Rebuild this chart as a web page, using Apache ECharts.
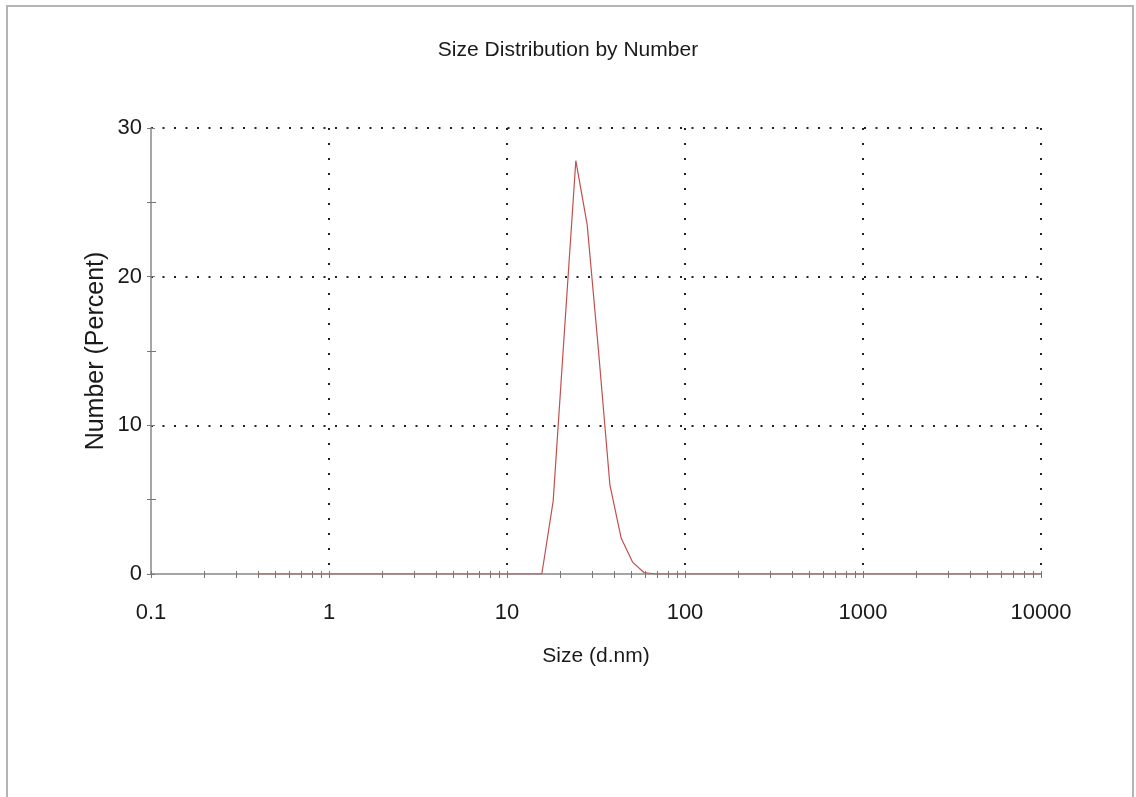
<!DOCTYPE html>
<html>
<head>
<meta charset="utf-8">
<script src="https://cdn.jsdelivr.net/npm/echarts@6/dist/echarts.min.js"></script>
<style>html,body{margin:0;padding:0;background:#fff;}#c{width:1136px;height:797px;}</style>
</head>
<body>
<div id="c"></div>
<script>
// Size bins (d.nm)
const sizes = [0.4, 0.4632, 0.5365, 0.6213, 0.7195, 0.8332, 0.9649, 1.117, 1.294, 1.499,
  1.736, 2.01, 2.328, 2.696, 3.122, 3.615, 4.187, 4.849, 5.615, 6.503,
  7.531, 8.721, 10.1, 11.7, 13.54, 15.69, 18.17, 21.04, 24.36, 28.21,
  32.67, 37.84, 43.82, 50.75, 58.77, 68.06, 78.82, 91.28, 105.7, 122.4,
  141.8, 164.2, 190.1, 220.2, 255.0, 295.3, 342.0, 396.1, 458.7, 531.2,
  615.1, 712.4, 825.0, 955.4, 1106, 1281, 1484, 1718, 1990, 2305,
  2669, 3091, 3580, 4145, 4801, 5560, 6439, 7456, 8635, 10000];
// Number (Percent)
const numberPct = [0, 0, 0, 0, 0, 0, 0, 0, 0, 0,
  0, 0, 0, 0, 0, 0, 0, 0, 0, 0,
  0, 0, 0, 0, 0, 0, 4.9, 16.4, 27.8, 23.5,
  15.0, 6.0, 2.4, 0.8, 0.1, 0, 0, 0, 0, 0,
  0, 0, 0, 0, 0, 0, 0, 0, 0, 0,
  0, 0, 0, 0, 0, 0, 0, 0, 0, 0,
  0, 0, 0, 0, 0, 0, 0, 0, 0, 0];
// X-axis tick marks (major + minor, log decades)
const xTickValues = [0.1, 0.2, 0.3, 0.4, 0.5, 0.6, 0.7, 0.8, 0.9,
  1, 2, 3, 4, 5, 6, 7, 8, 9,
  10, 20, 30, 40, 50, 60, 70, 80, 90,
  100, 200, 300, 400, 500, 600, 700, 800, 900,
  1000, 2000, 3000, 4000, 5000, 6000, 7000, 8000, 9000, 10000];
const yTickLabels = [0, 10, 20, 30];

const font = '"Liberation Sans", Arial, sans-serif';
const tickPos = xTickValues.map(v => Math.log10(v));

const chart = echarts.init(document.getElementById('c'));
chart.setOption({
  backgroundColor: '#ffffff',
  animation: false,
  graphic: [{
    type: 'rect', shape: {x: 7, y: 6, width: 1126, height: 796},
    style: {fill: 'none', stroke: '#b4b4b4', lineWidth: 2}, silent: true
  }],
  title: {
    text: 'Size Distribution by Number',
    left: 'center', top: 35,
    textStyle: {fontFamily: font, fontSize: 21, fontWeight: 'normal', color: '#1a1a1a'}
  },
  grid: {left: 151, right: 95, top: 128, bottom: 223, containLabel: false},
  xAxis: [{
    type: 'log', logBase: 10, min: 0.1, max: 10000,
    name: 'Size (d.nm)', nameLocation: 'middle', nameGap: 72,
    nameTextStyle: {fontFamily: font, fontSize: 21, color: '#1a1a1a'},
    axisLine: {show: true, onZero: false, lineStyle: {color: '#888', width: 1.5}},
    axisTick: {show: false},
    axisLabel: {margin: 28, fontFamily: font, fontSize: 22, color: '#1a1a1a',
      formatter: v => String(+Number(v).toPrecision(6))},
    splitLine: {show: true, showMinLine: false,
      lineStyle: {color: '#222', width: 2, type: [2, 13]}}
  }, {
    type: 'value', min: -1, max: 4, position: 'bottom', gridIndex: 0,
    axisLine: {show: true, onZero: false, lineStyle: {color: 'rgba(0,0,0,0)'}},
    axisTick: {show: true, inside: true, length: 3, customValues: tickPos,
      lineStyle: {color: '#777', width: 1}},
    axisLabel: {show: false}, splitLine: {show: false}
  }, {
    type: 'value', min: -1, max: 4, position: 'bottom', gridIndex: 0,
    axisLine: {show: true, onZero: false, lineStyle: {color: 'rgba(0,0,0,0)'}},
    axisTick: {show: true, inside: false, length: 4, customValues: tickPos,
      lineStyle: {color: '#777', width: 1}},
    axisLabel: {show: false}, splitLine: {show: false}
  }],
  yAxis: [{
    type: 'value', min: yTickLabels[0], max: yTickLabels[yTickLabels.length - 1], interval: 10,
    position: 'left',
    name: 'Number (Percent)', nameLocation: 'middle', nameGap: 42, nameRotate: 90,
    nameMoveOverlap: false,
    nameTextStyle: {fontFamily: font, fontSize: 25, color: '#1a1a1a'},
    axisLine: {show: true, onZero: false, lineStyle: {color: '#888', width: 1.5}},
    axisTick: {show: true, inside: false, length: 4, lineStyle: {color: '#777', width: 1}},
    minorTick: {show: true, splitNumber: 2, length: 4, lineStyle: {color: '#777', width: 1}},
    axisLabel: {margin: 9, fontFamily: font, fontSize: 22, color: '#1a1a1a'},
    splitLine: {show: true, showMinLine: false,
      lineStyle: {color: '#222', width: 2, type: [2, 9.5]}}
  }, {
    type: 'value', min: 0, max: 30, interval: 10, position: 'left',
    axisLine: {show: true, onZero: false, lineStyle: {color: 'rgba(0,0,0,0)'}},
    axisTick: {show: true, inside: true, length: 4, lineStyle: {color: '#777', width: 1}},
    minorTick: {show: true, splitNumber: 2, length: 5, lineStyle: {color: '#777', width: 1}},
    axisLabel: {show: false}, splitLine: {show: false}
  }],
  series: [{
    type: 'line', xAxisIndex: 0, yAxisIndex: 0,
    data: sizes.map((s, i) => [s, numberPct[i]]),
    showSymbol: false, symbol: 'none', smooth: false,
    lineStyle: {color: '#c0504d', width: 1.2},
    z: 5
  }]
});
</script>
</body>
</html>
